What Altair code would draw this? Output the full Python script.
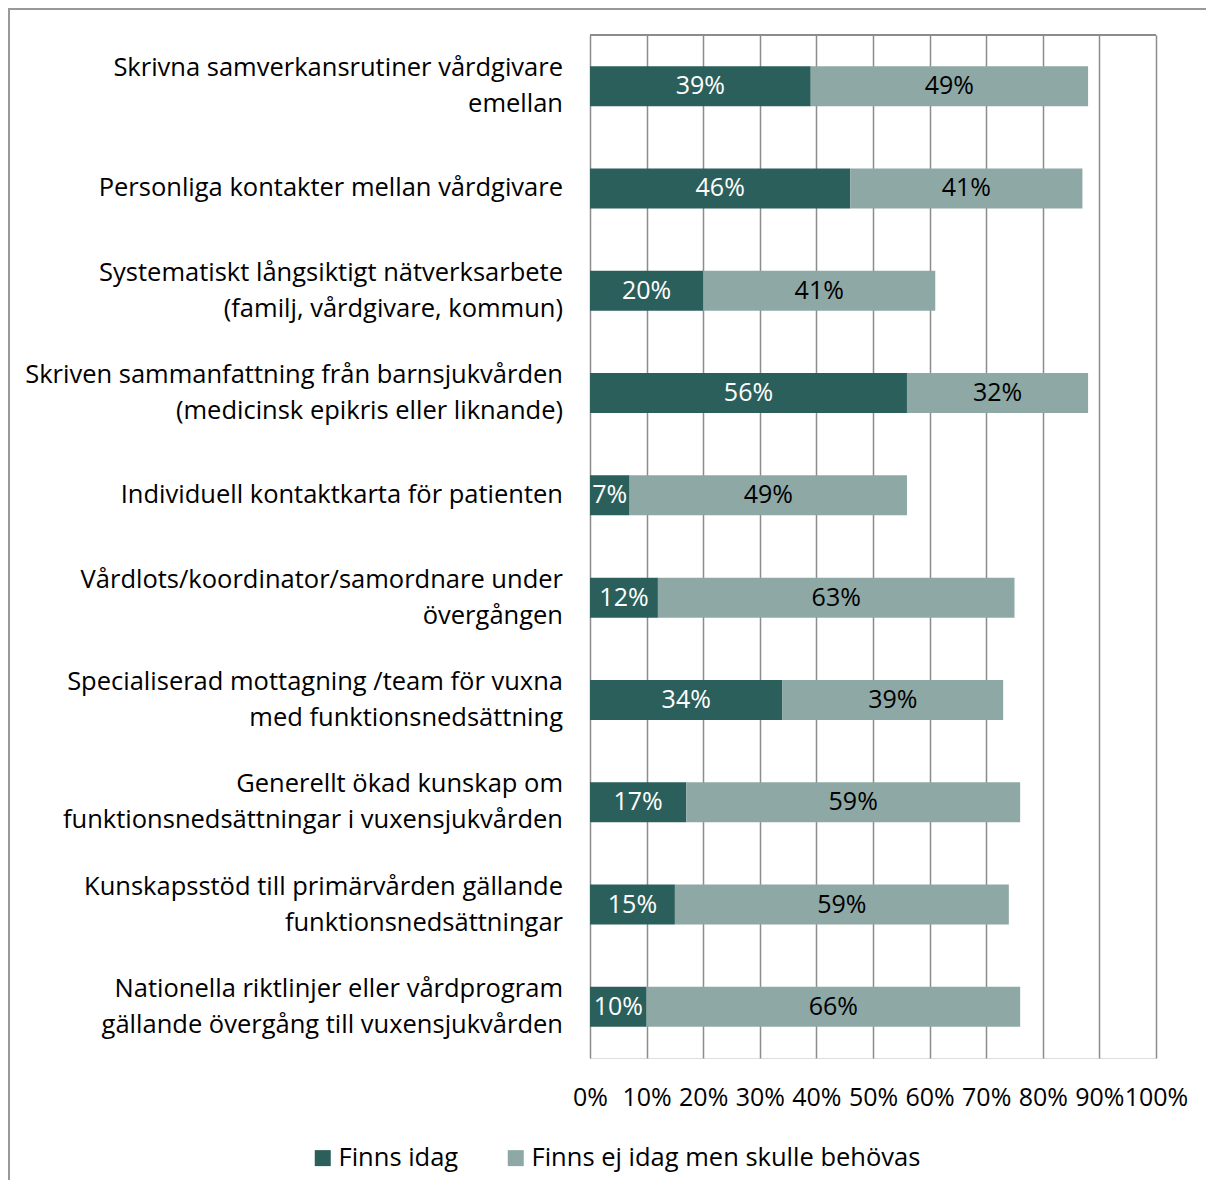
import altair as alt
import pandas as pd

categories = [
    "Skrivna samverkansrutiner vårdgivare\nemellan",
    "Personliga kontakter mellan vårdgivare",
    "Systematiskt långsiktigt nätverksarbete\n(familj, vårdgivare, kommun)",
    "Skriven sammanfattning från barnsjukvården\n(medicinsk epikris eller liknande)",
    "Individuell kontaktkarta för patienten",
    "Vårdlots/koordinator/samordnare under\növergången",
    "Specialiserad mottagning /team för vuxna\nmed funktionsnedsättning",
    "Generellt ökad kunskap om\nfunktionsnedsättningar i vuxensjukvården",
    "Kunskapsstöd till primärvården gällande\nfunktionsnedsättningar",
    "Nationella riktlinjer eller vårdprogram\ngällande övergång till vuxensjukvården",
]
finns_idag = [39, 46, 20, 56, 7, 12, 34, 17, 15, 10]
finns_ej = [49, 41, 41, 32, 49, 63, 39, 59, 59, 66]
series = ["Finns idag", "Finns ej idag men skulle behövas"]
x_ticks = [0, 10, 20, 30, 40, 50, 60, 70, 80, 90, 100]

rows = []
for c, a, b in zip(categories, finns_idag, finns_ej):
    rows.append({"cat": c, "series": series[0], "value": a, "ord": 0})
    rows.append({"cat": c, "series": series[1], "value": b, "ord": 1})
df = pd.DataFrame(rows)

# category label lines: one row per line, tagged by position within the label
lab_rows = []
for c in categories:
    parts = c.split("\n")
    if len(parts) == 1:
        lab_rows.append({"cat": c, "line": parts[0], "pos": "single"})
    else:
        lab_rows.append({"cat": c, "line": parts[0], "pos": "top"})
        lab_rows.append({"cat": c, "line": parts[1], "pos": "bottom"})
lab_df = pd.DataFrame(lab_rows)

DARK = "#2B5F5C"
LIGHT = "#8EA8A5"
GRID = "#8C8C8C"
FONT = "Open Sans"
FS = 25
W, H = 566, 1023

yscale = alt.Scale(domain=categories, padding=0)

base = alt.Chart(df).transform_stack(
    stack="value", groupby=["cat"], sort=[alt.SortField("ord")], as_=["x0", "x1"]
).transform_calculate(
    mid="(datum.x0 + datum.x1) / 2", label="datum.value + '%'"
)

yenc = alt.Y(
    "cat:N", title=None, scale=yscale,
    axis=alt.Axis(
        labels=False,
        tickBand="extent", tickSize=7, tickColor=GRID, tickWidth=1.5,
        domainColor=GRID, domainWidth=1.5, grid=False,
    ),
)

xscale = alt.Scale(domain=[0, 100], nice=False)
xaxis = alt.Axis(
    values=x_ticks, labelExpr="datum.value + '%'", title=None,
    grid=True, gridColor=GRID, gridWidth=1.5, domain=False, ticks=False,
    labelFont=FONT, labelFontSize=FS, labelColor="black", labelPadding=27,
    labelOverlap=False, labelFlush=False,
)

bars = base.mark_bar(height=40).encode(
    x=alt.X("x0:Q", scale=xscale, axis=xaxis),
    x2="x1:Q",
    y=yenc,
    color=alt.Color(
        "series:N",
        scale=alt.Scale(domain=series, range=[DARK, LIGHT]),
        legend=alt.Legend(
            title=None, orient="none", legendX=-280, legendY=1110,
            direction="horizontal", symbolType="square", symbolSize=256,
            symbolStrokeWidth=0, labelFont=FONT, labelFontSize=25.5,
            labelColor="black", labelOffset=3, columnPadding=44, padding=0,
            labelLimit=700,
        ),
    ),
)

texts = base.mark_text(font=FONT, fontSize=FS, baseline="middle").encode(
    x=alt.X("mid:Q", scale=xscale),
    y=alt.Y("cat:N", scale=yscale, axis=None),
    text="label:N",
    color=alt.condition(
        alt.datum.series == series[0], alt.value("white"), alt.value("black")
    ),
)


def cat_labels(pos, dy):
    return alt.Chart(lab_df).transform_filter(
        alt.datum.pos == pos
    ).mark_text(
        font=FONT, fontSize=25.5, align="right", baseline="middle",
        color="black", dy=dy,
    ).encode(
        x=alt.value(-27),
        y=alt.Y("cat:N", scale=yscale, axis=None),
        text="line:N",
    )


lab_single = cat_labels("single", 0)
lab_top = cat_labels("top", -18)
lab_bottom = cat_labels("bottom", 18)

top_line = alt.Chart(df).mark_rule(color=GRID, strokeWidth=1.5).encode(
    x=alt.value(0), x2=alt.value(W), y=alt.value(0)
)

border = alt.Chart(df).mark_rect(
    fill=None, stroke="#999999", strokeWidth=1.5
).encode(
    x=alt.value(-581.5), x2=alt.value(700), y=alt.value(-26.5), y2=alt.value(1200)
)

chart = alt.layer(
    border, bars, texts, lab_single, lab_top, lab_bottom, top_line
).properties(
    width=W, height=H,
    autosize=alt.AutoSizeParams(type="none"),
    padding={"left": 582, "top": 27, "right": 50, "bottom": 122},
).configure_view(stroke=None).configure(background="white")

chart.save("out.html", embed_options={"renderer": "svg", "actions": False})
